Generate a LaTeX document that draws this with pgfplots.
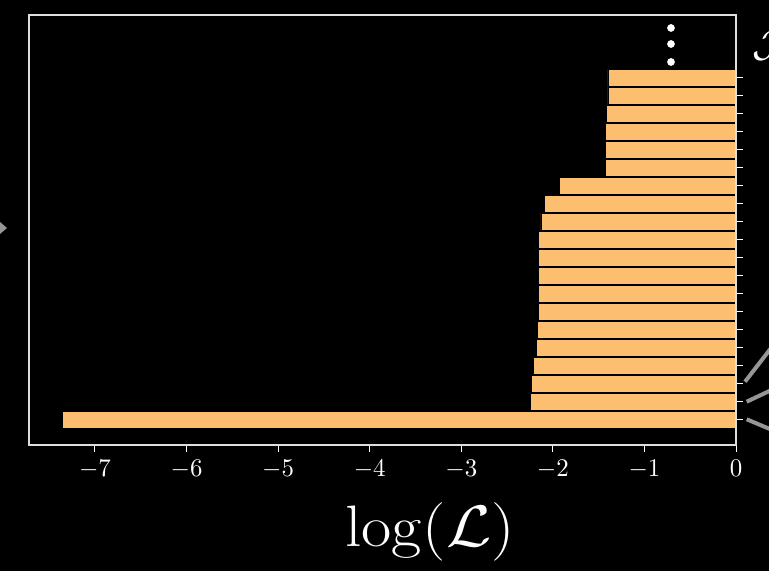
\documentclass[border=0pt]{standalone}
\usepackage{pgfplots}
\pgfplotsset{compat=1.18}
\definecolor{barc}{RGB}{252,191,112}
\definecolor{framec}{RGB}{222,222,222}
\definecolor{decog}{RGB}{150,150,150}
\pgfplotstableread{
y x
0 -7.35
1 -2.245
2 -2.23
3 -2.21
4 -2.175
5 -2.17
6 -2.16
7 -2.16
8 -2.16
9 -2.16
10 -2.16
11 -2.13
12 -2.09
13 -1.93
14 -1.423
15 -1.423
16 -1.423
17 -1.416
18 -1.398
19 -1.398
}\bars
\begin{document}
\begin{tikzpicture}[x=1bp,y=1bp]
\fill[black] (0,0) rectangle (769,571);
\path[use as bounding box] (0,0) rectangle (769,571);
\begin{axis}[
  at={(29bp,126bp)}, anchor=south west,
  scale only axis, width=707bp, height=430bp,
  xmin=-7.72, xmax=0, ymin=-1.39, ymax=22.5,
  axis line style={framec, line width=1.3bp},
  axis on top,
  xtick={-7,-6,-5,-4,-3,-2,-1,0},
  xticklabels={},
  ytick={0,...,19}, yticklabels={},
  xtick pos=bottom, ytick pos=right,
  tick align=outside,
  major tick length=7bp,
  tick style={white, line width=1bp},
]
\addplot[xbar, bar shift=0pt, bar width=0.95, fill=barc, draw=black, line width=0.8bp]
  table[x=x, y=y] {\bars};
\addplot[only marks, mark=*, mark size=3.6bp, white] coordinates {(-0.71,19.89) (-0.71,20.89) (-0.71,21.78)};
\end{axis}
\foreach \v in {-7,-6,-5,-4,-3,-2,-1,0}{
  \node[anchor=base, text=white, inner sep=0pt, xscale=2.5, yscale=2.55] at ({736+91.57*\v},94.5) {$\v$};
}
\node[anchor=base, text=white, inner sep=0pt, xscale=3.18, yscale=2.83] at (430,24) {\huge $\log(\mathcal{L})$};
\node[anchor=base west, text=white, inner sep=0pt, scale=1.9] at (752,514) {\huge $\mathcal{J}$};
\fill[decog] (0,349) -- (7,343) -- (0,337) -- cycle;
\draw[decog, line width=4bp] (745,189.3) -- (775,228);
\draw[decog, line width=4bp] (746.7,169.3) -- (775,182.6);
\draw[decog, line width=4bp] (746.7,151.7) -- (775,139.8);
\end{tikzpicture}
\end{document}
